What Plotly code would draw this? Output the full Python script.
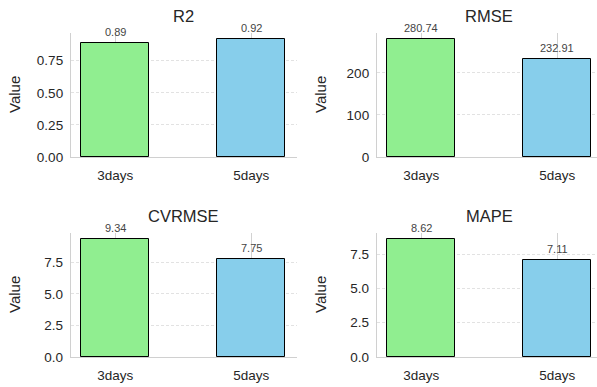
import plotly.graph_objects as go

# Model evaluation metrics for the two forecast horizons
categories = ["3days", "5days"]
metrics = ["R2", "RMSE", "CVRMSE", "MAPE"]
r2_values = [0.89, 0.92]
rmse_values = [280.74, 232.91]
cvrmse_values = [9.34, 7.75]
mape_values = [8.62, 7.11]
value_labels = {
    "R2": ["0.89", "0.92"],
    "RMSE": ["280.74", "232.91"],
    "CVRMSE": ["9.34", "7.75"],
    "MAPE": ["8.62", "7.11"],
}
y_ticks = {
    "R2": ([0, 0.25, 0.5, 0.75], ["0.00", "0.25", "0.50", "0.75"]),
    "RMSE": ([0, 100, 200], ["0", "100", "200"]),
    "CVRMSE": ([0, 2.5, 5, 7.5], ["0.0", "2.5", "5.0", "7.5"]),
    "MAPE": ([0, 2.5, 5, 7.5], ["0.0", "2.5", "5.0", "7.5"]),
}
series = {"R2": r2_values, "RMSE": rmse_values, "CVRMSE": cvrmse_values, "MAPE": mape_values}
bar_colors = ["#90EE90", "#87CEEB"]

W, H = 597, 387
FONT = "Liberation Sans, Arial, sans-serif"
TEXT = "#262626"

# panel geometry in pixels: (left, right, top, bottom)
px_per_cat = 136
panels = {
    "R2": (71, 297, 33, 157),
    "RMSE": (377, 597, 33, 157),
    "CVRMSE": (71, 297, 233, 357),
    "MAPE": (377, 597, 233, 357),
}

fig = go.Figure()
annotations = []

for i, m in enumerate(metrics):
    n = i + 1
    xa = "x" if n == 1 else f"x{n}"
    ya = "y" if n == 1 else f"y{n}"
    left, right, top, bottom = panels[m]
    vals = series[m]

    fig.add_trace(go.Bar(
        x=[0, 1], y=vals, width=0.5, xaxis=xa, yaxis=ya,
        marker=dict(color=bar_colors, line=dict(color="black", width=1)),
        showlegend=False, hoverinfo="skip",
    ))

    x_lo = -0.325
    x_hi = x_lo + (right - left) / px_per_cat
    ymax = max(vals) * 1.05
    tv, tt = y_ticks[m]

    fig.layout[("xaxis" if n == 1 else f"xaxis{n}")] = dict(
        domain=[left / W, right / W], range=[x_lo, x_hi], anchor=ya,
        tickvals=[0, 1], ticktext=categories, showgrid=True,
        gridcolor="#d2d2d2", gridwidth=1, zeroline=False,
        showline=True, linecolor="#d0d0d0", linewidth=1.3,
        ticks="", ticklabelstandoff=6, automargin=False,
        tickfont=dict(family=FONT, size=13.5, color=TEXT), fixedrange=True,
    )
    fig.layout[("yaxis" if n == 1 else f"yaxis{n}")] = dict(
        domain=[(H - bottom) / H, (H - top) / H], range=[0, ymax], anchor=xa,
        tickvals=tv, ticktext=tt, showgrid=True, gridcolor="#e2e2e2",
        gridwidth=0.8, griddash="3px,2px", zeroline=False,
        showline=True, linecolor="#d0d0d0", linewidth=1.3,
        ticks="", ticklabelstandoff=4, automargin=False,
        tickfont=dict(family=FONT, size=13.5, color=TEXT), fixedrange=True,
    )

    # value labels above each bar
    for xi, (v, lab) in enumerate(zip(vals, value_labels[m])):
        annotations.append(dict(
            x=xi, y=v, xref=xa, yref=ya, text=lab, showarrow=False,
            yanchor="bottom", yshift=3,
            font=dict(family=FONT, size=11, color="#444444"),
        ))

    # panel title
    annotations.append(dict(
        x=(left + (left + 1.65 * px_per_cat)) / 2 / W, y=(H - (top - 17)) / H,
        xref="paper", yref="paper", text=m, showarrow=False,
        xanchor="center", yanchor="middle",
        font=dict(family=FONT, size=16.5, color=TEXT),
    ))

    # y axis title
    annotations.append(dict(
        x=(left - 57) / W, y=(H - (top + bottom) / 2) / H,
        xref="paper", yref="paper", text="Value", showarrow=False,
        textangle=-90, xanchor="center", yanchor="middle",
        font=dict(family=FONT, size=15, color=TEXT),
    ))

fig.update_layout(
    width=W, height=H, margin=dict(l=0, r=0, t=0, b=0, autoexpand=False),
    paper_bgcolor="white", plot_bgcolor="white",
    annotations=annotations, bargap=0,
)

fig.write_html("out.html")
